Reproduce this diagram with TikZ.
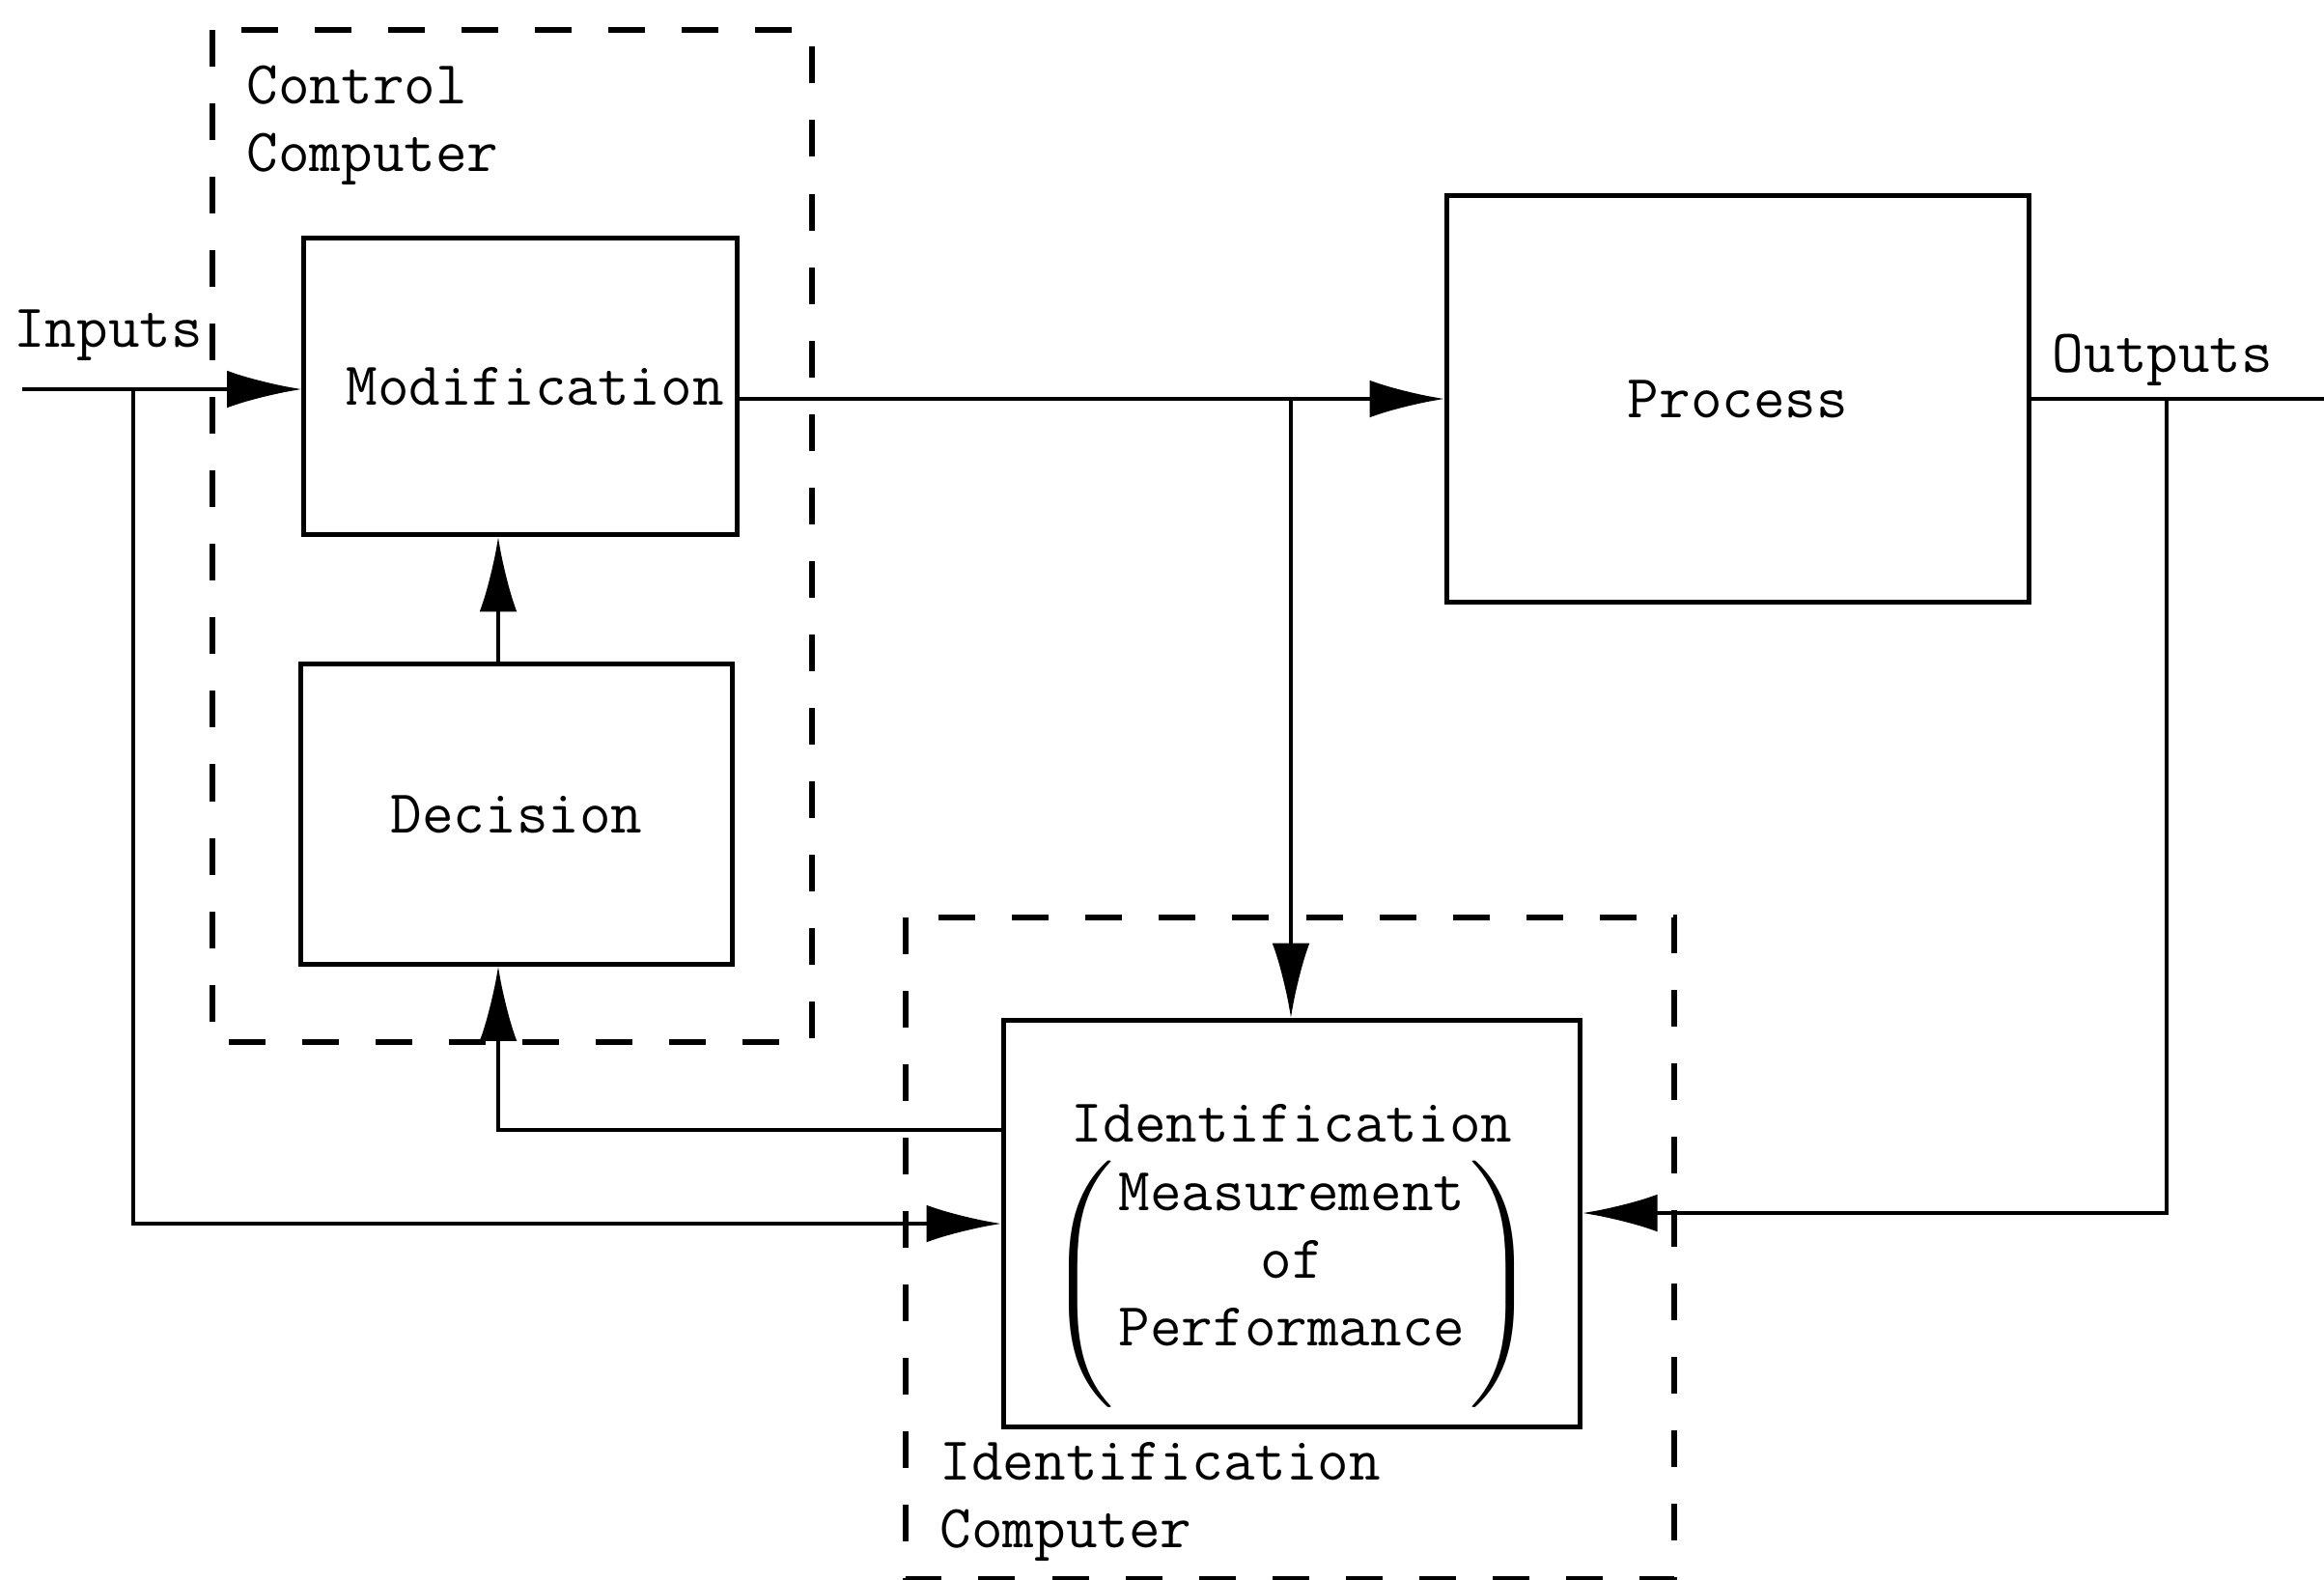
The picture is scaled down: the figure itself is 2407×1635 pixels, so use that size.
\documentclass[tikz,border=0pt]{standalone}
\usepackage{tikz}
\usepackage{amsmath}
\usepackage{graphicx}
\usetikzlibrary{shapes,arrows,arrows.meta,positioning,fit,backgrounds,calc}

\newcommand{\tallopen}{\scalebox{1.3}[1]{$\left(\rule[-1.12cm]{0pt}{2.55cm}\right.$}}
\newcommand{\tallclose}{\scalebox{1.3}[1]{$\left.\rule[-1.12cm]{0pt}{2.55cm}\right)$}}

\begin{document}
\begin{tikzpicture}[
    x=0.01cm, y=-0.01cm,
    every node/.style={font=\fontsize{18}{20}\selectfont\ttfamily},
    block/.style={draw, rectangle, line width=1.4pt, inner sep=0pt, align=center},
    lbl/.style={inner sep=0pt, align=left},
    frame/.style={line width=1.6pt, dash pattern=on 0.38cm off 0.38cm},
    conn/.style={line width=1.3pt},
    >={Latex[length=22pt,width=11pt]}
]
\useasboundingbox (0,0) rectangle (2407,1635);

% computers (dashed)
\draw[frame] (220,31) rectangle (841,1079);
\draw[frame] (938,950) rectangle (1734,1635);
\node[lbl, anchor=west] (ccomp) at (255,130) {Control\\Computer};
\node[lbl, anchor=west] (icomp) at (973,1555) {Identification\\Computer};

% blocks
\node[block, minimum width=4.48cm, minimum height=3.07cm] (mod) at (539,400) {\hspace{0.3cm}Modification};
\node[block, minimum width=4.46cm, minimum height=3.10cm] (dec) at (535,843) {Decision};
\node[block, minimum width=6.03cm, minimum height=4.21cm] (proc) at (1800,413) {Process};
\node[block, minimum width=5.97cm, minimum height=4.21cm] (ident) at (1338,1267)
    {\raisebox{0pt}[\dimexpr\height+0.56cm\relax][\depth]{\begin{tabular}{@{}c@{}}Identification\\[-0.02cm]%
     \tallopen\raisebox{0.2cm}{\begin{tabular}{@{}c@{}}Measurement\\of\\Performance\end{tabular}}\tallclose\end{tabular}}};

% signals
\coordinate (inp) at (23,403);
\coordinate (b1) at (138,403);
\coordinate (b2) at (1337,413);
\coordinate (out) at (2407,413);
\coordinate (b3) at (2244,413);
\coordinate (r3) at (2244,1256);
\coordinate (fb) at (516,1170);

\node[lbl] (inlbl) at (112,347) {Inputs};
\node[lbl] (outlbl) at (2240,373) {Outputs};

\draw[conn,->] (inp) -- (inp -| mod.west);
\draw[conn,->] (proc.west -| mod.east) -- (proc.west);
\draw[conn] (proc.east) -- (out);
\draw[conn,->] (b1) |- (ident.west);
\draw[conn,->] (b2) -- (b2 |- ident.north);
\draw[conn,->] (b3) -- (r3) -- (r3 -| ident.east);
\draw[conn,->] (dec.north -| fb) -- (mod.south -| fb);
\draw[conn,->] (ident.west |- fb) -- (fb) -- (fb |- dec.south);
\end{tikzpicture}
\end{document}
